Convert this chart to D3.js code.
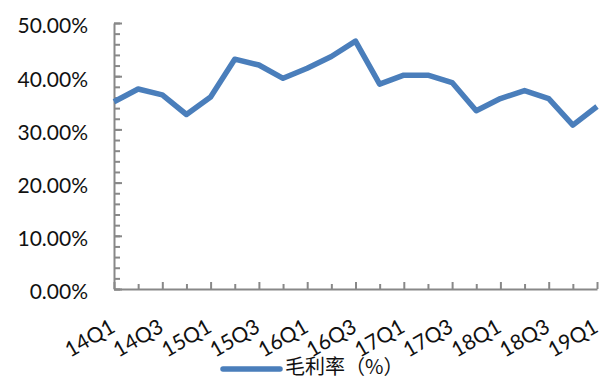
<!DOCTYPE html>
<html>
<head>
<meta charset="utf-8">
<script src="https://cdn.jsdelivr.net/npm/d3@7"></script>
<style>
  html, body { margin: 0; padding: 0; background: #fff; }
  svg { display: block; }
</style>
</head>
<body>
<svg id="chart" width="602" height="379"></svg>
<script>
// Quarterly gross margin, 14Q1 – 19Q1
const quarters = ["14Q1","14Q2","14Q3","14Q4","15Q1","15Q2","15Q3","15Q4",
                  "16Q1","16Q2","16Q3","16Q4","17Q1","17Q2","17Q3","17Q4",
                  "18Q1","18Q2","18Q3","18Q4","19Q1"];
const grossMargin = [35.2, 37.6, 36.5, 32.8, 36.1, 43.2, 42.1, 39.6,
                     41.5, 43.7, 46.6, 38.5, 40.2, 40.2, 38.8, 33.5,
                     35.8, 37.3, 35.8, 30.8, 34.3];
const yMajorTicks = [0, 10, 20, 30, 40, 50];
const seriesName = "毛利率（%）";

const svg = d3.select("#chart");
const latin = "Lato, 'Open Sans', 'Liberation Sans', sans-serif";
const axisColor = "#888888";
const lineColor = "#4a7ebb";

const plot = { left: 114, right: 597, top: 23, bottom: 289 };

const x = d3.scalePoint().domain(quarters).range([plot.left, plot.right]);
const y = d3.scaleLinear().domain([0, 50]).range([plot.bottom, plot.top]);

// minor y ticks every 2%
const yMinor = svg.append("g")
  .attr("transform", `translate(${plot.left},0)`)
  .call(d3.axisLeft(y).tickValues(d3.range(0, 50.001, 2)).tickSizeInner(-6).tickSizeOuter(0).tickFormat(""));
yMinor.select(".domain").remove();
yMinor.selectAll(".tick line").attr("stroke", axisColor).attr("stroke-width", 2);

// major y ticks and labels
const yMajor = svg.append("g")
  .attr("transform", `translate(${plot.left},0)`)
  .call(d3.axisLeft(y).tickValues(yMajorTicks).tickSizeInner(-8).tickSizeOuter(0)
        .tickPadding(26).tickFormat(d => d.toFixed(2) + "%"));
yMajor.select(".domain").attr("stroke", axisColor).attr("stroke-width", 2);
yMajor.selectAll(".tick line").attr("stroke", axisColor).attr("stroke-width", 2);
yMajor.selectAll(".tick text")
  .attr("fill", "#111").attr("font-family", latin).attr("font-size", 21).attr("dy", "0.47em");

// x axis with ticks pointing up; labels on every other quarter, slanted 30°
const xAxis = svg.append("g")
  .attr("transform", `translate(0,${plot.bottom})`)
  .call(d3.axisBottom(x).tickSizeInner(-7).tickSizeOuter(0).tickFormat(""));
xAxis.select(".domain").attr("stroke", axisColor).attr("stroke-width", 2);
xAxis.selectAll(".tick line")
  .attr("stroke", axisColor).attr("stroke-width", 2)
  .attr("y2", (d, i) => i % 2 === 0 ? -7 : -5);
xAxis.selectAll(".tick text").remove();
xAxis.selectAll(".tick")
  .filter((d, i) => i % 2 === 0)
  .append("text")
  .attr("transform", "translate(2,42) rotate(-30)")
  .attr("text-anchor", "end")
  .attr("fill", "#111")
  .attr("font-family", latin)
  .attr("font-size", 21)
  .text(d => d);

// series line
svg.append("path")
  .datum(grossMargin)
  .attr("fill", "none")
  .attr("stroke", lineColor)
  .attr("stroke-width", 5.5)
  .attr("stroke-linejoin", "round")
  .attr("d", d3.line().x((d, i) => x(quarters[i])).y(d => y(d)));

// legend
const legend = svg.append("g");
legend.append("line")
  .attr("x1", 223).attr("x2", 280).attr("y1", 369).attr("y2", 369)
  .attr("stroke", lineColor).attr("stroke-width", 5.5).attr("stroke-linecap", "round");
legend.append("text")
  .attr("x", 285).attr("y", 374)
  .attr("fill", "#111")
  .attr("font-family", "'Noto Sans CJK SC', sans-serif")
  .attr("font-size", 20)
  .text(seriesName);
</script>
</body>
</html>
